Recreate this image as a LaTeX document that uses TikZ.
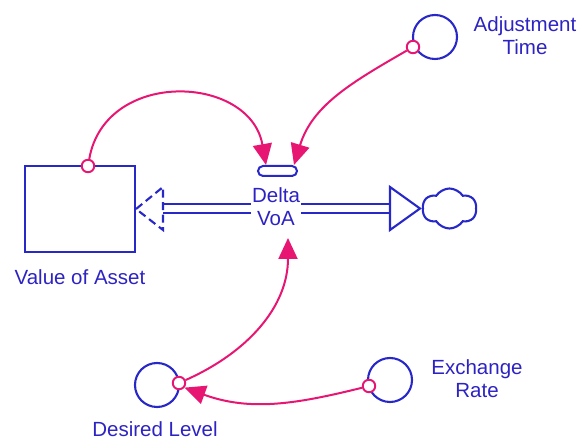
\documentclass[tikz,border=0pt]{standalone}
\usepackage{fontspec}
\setmainfont{Liberation Sans}
\usetikzlibrary{arrows.meta,shapes.symbols}
\definecolor{sdblue}{RGB}{40,40,200}
\definecolor{sdpink}{RGB}{232,22,115}
\definecolor{sdtext}{RGB}{45,35,195}
\begin{document}
\begin{tikzpicture}[x=1pt,y=1pt,
  lbl/.style={text=sdtext, font=\fontsize{20.5}{23}\selectfont, align=center, inner sep=0pt},
  aux/.style={circle, draw=sdblue, line width=2.1pt, minimum size=44pt, inner sep=0pt},
  pin/.style={circle, draw=sdpink, fill=white, line width=1.9pt, minimum size=12.5pt, inner sep=0pt},
  link/.style={draw=sdpink, line width=2pt, -{Triangle[length=21pt,width=19pt]}},
  bline/.style={draw=sdblue, line width=2.1pt},
  pipe/.style={draw=sdblue, line width=2.1pt, double=white, double distance=7pt},
  stockbox/.style={draw=sdblue, line width=2.1pt, minimum width=110pt, minimum height=86pt, inner sep=0pt},
  valvebox/.style={draw=sdblue, line width=2pt, rounded corners=5pt, minimum width=39pt, minimum height=10pt, inner sep=0pt}
]
\useasboundingbox (0,0) rectangle (584,444);

% stock
\node[stockbox] (stock) at (80,235) {};
\node[lbl] (stocklbl) at (80,167) {Value of Asset};

% pipe
\coordinate (pipeL) at (163,235.5);
\coordinate (pipeR) at (390,235.5);
\draw[pipe] (pipeL) -- (pipeR);
\draw[bline, dash pattern=on 8pt off 4.5pt] (stock.east) -- (163,257) -- (163,214) -- cycle;
\draw[bline, fill=white] (390,257) -- (420,235.5) -- (390,214) -- cycle;
\node[cloud, draw=sdblue, line width=2.1pt, cloud puffs=6, cloud puff arc=115, aspect=1.35, minimum width=54pt, minimum height=40pt, inner sep=0pt] (cloud) at (449.5,235.5) {};

% valve and flow label
\node[valvebox] (valve) at (277.5,273) {};
\node[lbl, fill=white, inner sep=1.5pt] (flowlbl) at (276,237.5) {Delta\\VoA};

% auxiliaries
\node[aux] (adj) at (435,407) {};
\node[lbl] (adjlbl) at (525,408) {Adjustment\\Time};
\node[aux] (exr) at (390,64) {};
\node[lbl] (exrlbl) at (477,65) {Exchange\\Rate};
\node[aux] (des) at (157,59) {};
\node[lbl, anchor=base] (deslbl) at (155,7) {Desired Level};

% pins
\node[pin] (stockp) at (88,278) {};
\node[pin] (adjp) at (413,397) {};
\node[pin] (exrp) at (369,58) {};
\node[pin] (desp) at (179,61) {};

% links
\coordinate (t1) at (266,279);
\coordinate (t2) at (294,279);
\coordinate (t3) at (288,206);
\draw[link] (stockp) to[out=80,in=100,looseness=1.33] (t1);
\draw[link] (adjp) to[out=210,in=73] (t2);
\draw[link] (desp) to[out=24,in=270] (t3);
\draw[link] (exrp) to[out=194,in=-20] (desp.-40);
\end{tikzpicture}
\end{document}
